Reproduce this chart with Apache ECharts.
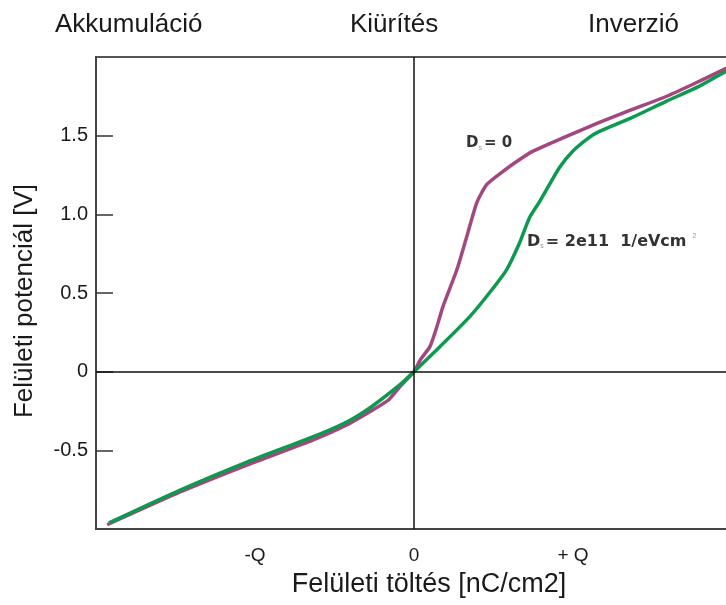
<!DOCTYPE html>
<html>
<head>
<meta charset="utf-8">
<script src="https://cdn.jsdelivr.net/npm/echarts@6/dist/echarts.min.js"></script>
<style>
html,body{margin:0;padding:0;background:#fff;}
#c{width:726px;height:605px;}
</style>
</head>
<body>
<div id="c"></div>
<script>
// Data (x in units of Q, y in V)
var ds0X = [-1.93, -1.467, -1.047, -0.633, -0.42, -0.257, -0.16, -0.088, 0, 0.04, 0.1, 0.144, 0.182, 0.27, 0.332, 0.395, 0.458, 0.558, 0.646, 0.746, 0.959, 1.166, 1.373, 1.586, 1.793, 1.95, 2.0];
var ds0Y = [-0.973, -0.763, -0.592, -0.433, -0.337, -0.242, -0.18, -0.095, 0, 0.076, 0.159, 0.286, 0.413, 0.649, 0.859, 1.075, 1.19, 1.272, 1.336, 1.40, 1.495, 1.584, 1.667, 1.749, 1.845, 1.921, 1.945];
var ds2X = [-1.918, -1.467, -1.047, -0.633, -0.42, -0.276, -0.088, 0, 0.163, 0.351, 0.476, 0.583, 0.665, 0.727, 0.79, 0.915, 0.997, 1.103, 1.166, 1.373, 1.586, 1.793, 1.95, 2.0];
var ds2Y = [-0.961, -0.751, -0.573, -0.413, -0.318, -0.229, -0.083, 0, 0.159, 0.35, 0.503, 0.649, 0.821, 0.98, 1.081, 1.298, 1.40, 1.489, 1.527, 1.616, 1.718, 1.813, 1.902, 1.93];
var xTickLabels = {'-1': '-Q', '0': '0', '1': '+ Q'};
var regionTitles = ['Akkumuláció', 'Kiürítés', 'Inverzió'];
var xName = 'Felületi töltés [nC/cm2]';
var yName = 'Felületi potenciál [V]';

function pairs(xs, ys) { return xs.map(function (x, i) { return [x, ys[i]]; }); }

var FONT = 'Liberation Sans, Arial, sans-serif';
var chart = echarts.init(document.getElementById('c'), null, {renderer: 'canvas'});
var titleLefts = [55, 350, 588];
chart.setOption({
  animation: false,
  backgroundColor: '#fff',
  title: regionTitles.map(function (t, i) {
    return {text: t, left: titleLefts[i], top: 12, padding: 0,
      textStyle: {fontSize: 26, fontWeight: 'normal', color: '#1a1a1a', fontFamily: FONT}};
  }),
  grid: {left: 96, top: 57, width: 636, height: 472, outerBoundsMode: 'none', containLabel: false,
    show: true, borderColor: '#555', borderWidth: 2, backgroundColor: 'transparent'},
  xAxis: {
    type: 'value', min: -2, max: 2, interval: 1,
    name: xName, nameLocation: 'middle', nameGap: 42,
    nameTextStyle: {fontSize: 27, color: '#1a1a1a', fontFamily: FONT, padding: [0, 0, 0, 30]},
    axisLine: {show: true, onZero: false, lineStyle: {color: '#444', width: 2}},
    axisTick: {show: false},
    splitLine: {show: false},
    axisLabel: {show: true, margin: 17, fontSize: 19, color: '#1a1a1a', fontFamily: FONT,
      showMinLabel: false, showMaxLabel: false,
      formatter: function (v) { return xTickLabels[String(v)] || ''; }}
  },
  yAxis: {
    type: 'value', min: -1, max: 2, interval: 0.5,
    name: yName, nameLocation: 'middle', nameGap: 58,
    nameTextStyle: {fontSize: 26, color: '#1a1a1a', fontFamily: FONT, padding: [0, 16, 0, 0]},
    axisLine: {show: true, onZero: false, lineStyle: {color: '#444', width: 2}},
    axisTick: {show: true, inside: true, length: 17, lineStyle: {color: '#333', width: 1.5}},
    splitLine: {show: false},
    axisLabel: {show: true, margin: 8, fontSize: 20, color: '#1a1a1a', fontFamily: FONT,
      showMinLabel: false, showMaxLabel: false,
      formatter: function (v) { return v === 0 ? '0' : v.toFixed(1); }}
  },
  series: [
    {
      name: 'Ds = 0', type: 'line', data: pairs(ds0X, ds0Y), showSymbol: false, smooth: 0.2,
      lineStyle: {color: '#a3477f', width: 3.5}, z: 3,
      markLine: {silent: true, symbol: 'none', label: {show: false},
        lineStyle: {color: '#111', width: 1.5, type: 'solid'},
        data: [{xAxis: 0}, {yAxis: 0}]}
    },
    {
      name: 'Ds = 2e11', type: 'line', data: pairs(ds2X, ds2Y), showSymbol: false, smooth: 0.2,
      lineStyle: {color: '#0d9a4f', width: 3.5}, z: 4
    }
  ],
  graphic: [
    {type: 'text', left: 466, top: 136, z: 10,
      style: {text: '{a|D}{s|s}{a|= 0}', fontFamily: 'DejaVu Sans, sans-serif',
        rich: {a: {fontSize: 15, fontWeight: 'bold', fill: '#333', fontFamily: 'DejaVu Sans'}, s: {fontSize: 7, fill: '#999', padding: [9, 2, 0, 0]}}}},
    {type: 'text', left: 527, top: 233, z: 10,
      style: {text: '{a|D}{s|s}{a|= 2e11  1/eVcm}{p|2}', fontFamily: 'DejaVu Sans, sans-serif',
        rich: {a: {fontSize: 16, fontWeight: 'bold', fill: '#333', fontFamily: 'DejaVu Sans'}, s: {fontSize: 7, fill: '#999', padding: [10, 2, 0, 0]}, p: {fontSize: 7, fill: '#999', padding: [0, 0, 10, 6]}}}}
  ]
});
</script>
</body>
</html>
